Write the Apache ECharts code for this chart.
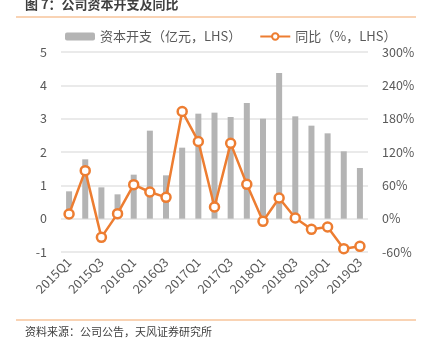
<!DOCTYPE html>
<html><head><meta charset="utf-8">
<script src="https://cdn.jsdelivr.net/npm/echarts@6/dist/echarts.min.js"></script>
<style>html,body{margin:0;padding:0;background:#fff}#c{width:425px;height:344px}</style>
</head><body><div id="c"></div>
<script>
const categories = ['2015Q1','2015Q2','2015Q3','2015Q4','2016Q1','2016Q2','2016Q3','2016Q4','2017Q1','2017Q2','2017Q3','2017Q4','2018Q1','2018Q2','2018Q3','2018Q4','2019Q1','2019Q2','2019Q3'];
const capex = [0.82,1.78,0.94,0.73,1.32,2.64,1.30,2.13,3.15,3.18,3.05,3.47,3.00,4.37,3.07,2.79,2.56,2.02,1.52];
const yoy = [8.4,86.4,-33.6,9,61.2,48,38.4,193,139,21,135.6,61.8,-4.8,37.2,1.2,-19.2,-15,-54,-49.8];
const leftTicks = {min:-1,max:5,interval:1};
const rightTicks = {min:-60,max:300,interval:60};
const seriesNames = ['资本开支（亿元，LHS）','同比（%，LHS）'];
const titleText = '图 7：公司资本开支及同比';
const sourceText = '资料来源：公司公告，天风证券研究所';

const font = '"Noto Sans CJK SC", "Noto Sans", sans-serif';
const chart = echarts.init(document.getElementById('c'), null, {renderer:'canvas'});
chart.setOption({
  animation:false,
  textStyle:{fontFamily:font},
  graphic:[
    {type:'text', left:25, top:-2, style:{text:titleText, font:'bold 13px '+font, fill:'#404040'}},
    {type:'rect', shape:{x:16,y:16.5,width:400,height:1}, style:{fill:'#f3a86a'}},
    {type:'rect', shape:{x:16,y:319.5,width:400,height:1}, style:{fill:'#f3a86a'}},
    {type:'text', left:25, top:326, style:{text:sourceText, font:'11px '+font, fill:'#404040'}}
  ],
  legend:{
    top:25, left:60, itemGap:18, itemWidth:30, itemHeight:8,
    textStyle:{fontSize:13, color:'#595959', fontFamily:font},
    data:[{name:seriesNames[0]},{name:seriesNames[1]}]
  },
  grid:{left:61, right:57, top:52, bottom:92, containLabel:false},
  xAxis:{
    type:'category', data:categories, boundaryGap:true,
    axisLine:{show:false}, axisTick:{show:false},
    axisLabel:{interval:1, rotate:45, color:'#595959', fontSize:12.5, margin:8}
  },
  yAxis:[
    {type:'value', min:leftTicks.min, max:leftTicks.max, interval:leftTicks.interval,
     axisLine:{show:false}, axisTick:{show:false},
     axisLabel:{color:'#595959', fontSize:12.5, margin:14},
     splitLine:{lineStyle:{color:'#e3e3e3', width:1.5}}},
    {type:'value', min:rightTicks.min, max:rightTicks.max, interval:rightTicks.interval,
     axisLine:{show:false}, axisTick:{show:false},
     axisLabel:{color:'#595959', fontSize:12.5, margin:14, formatter:'{value}%'},
     splitLine:{show:false}}
  ],
  series:[
    {name:seriesNames[0], type:'bar', data:capex, yAxisIndex:0, barWidth:6,
     itemStyle:{color:'#b4b4b4'}},
    {name:seriesNames[1], type:'line', data:yoy, yAxisIndex:1,
     symbol:'circle', symbolSize:9, showAllSymbol:true,
     lineStyle:{color:'#ed7d31', width:2.5},
     itemStyle:{color:'#ffffff', borderColor:'#ed7d31', borderWidth:2.5}}
  ]
});
</script></body></html>
